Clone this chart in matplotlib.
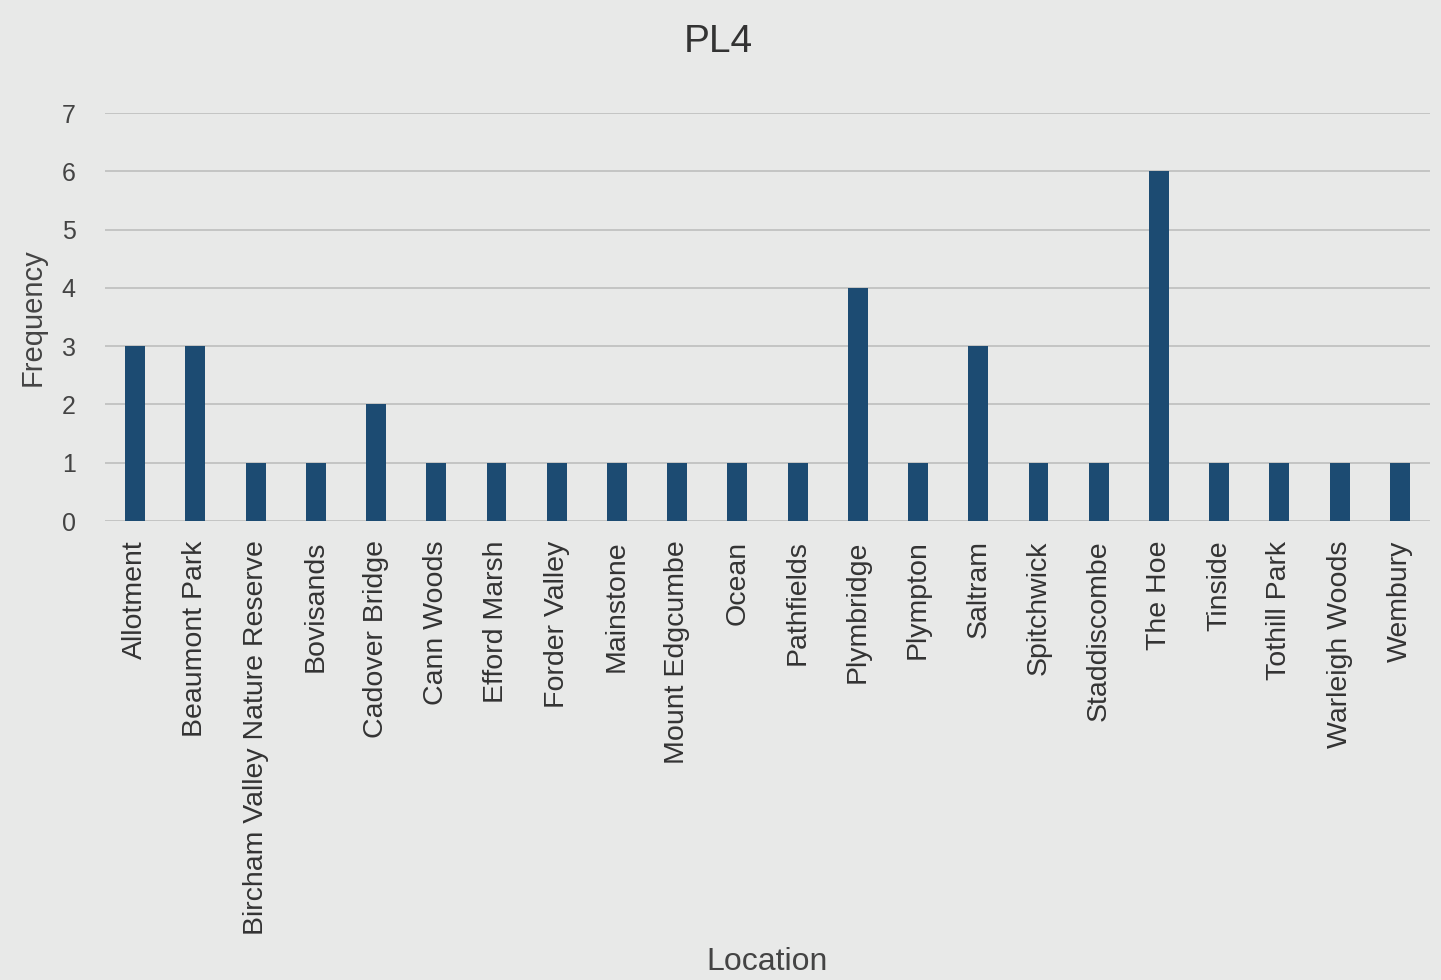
import matplotlib
matplotlib.use("Agg")
import matplotlib.pyplot as plt

locations = ["Allotment", "Beaumont Park", "Bircham Valley Nature Reserve", "Bovisands",
             "Cadover Bridge", "Cann Woods", "Efford Marsh", "Forder Valley", "Mainstone",
             "Mount Edgcumbe", "Ocean", "Pathfields", "Plymbridge", "Plympton", "Saltram",
             "Spitchwick", "Staddiscombe", "The Hoe", "Tinside", "Tothill Park",
             "Warleigh Woods", "Wembury"]
frequency = [3, 3, 1, 1, 2, 1, 1, 1, 1, 1, 1, 1, 4, 1, 3, 1, 1, 6, 1, 1, 1, 1]
yticks = [0, 1, 2, 3, 4, 5, 6, 7]

bg = "#e8e9e8"
plt.rcParams['font.family'] = ['Liberation Sans', 'DejaVu Sans']

fig = plt.figure(figsize=(14.41, 9.80), dpi=100, facecolor=bg)
ax = fig.add_axes([105/1441, 1-521/980, (1430-105)/1441, (521-113)/980], facecolor=bg)

x = list(range(len(locations)))
ax.bar(x, frequency, width=0.33, color="#1c4b72", zorder=3)

ax.set_xlim(-0.5, len(locations) - 0.5)
ax.set_ylim(0, 7)
ax.set_yticks(yticks)
ax.set_yticklabels([str(v) for v in yticks], fontsize=18, color="#444444")
ax.set_xticks(x)
ax.set_xticklabels(locations, rotation=90, fontsize=20.5, color="#333333")
ax.tick_params(axis='both', length=0)
ax.tick_params(axis='x', pad=14)
ax.tick_params(axis='y', pad=21)
ax.yaxis.grid(True, color="#c4c4c4", linewidth=1.4, zorder=0)
ax.xaxis.grid(False)
for s in ax.spines.values():
    s.set_visible(False)

ax.set_ylabel("Frequency", fontsize=21, color="#444444")
ax.yaxis.set_label_coords(-(105-47)/1325, 0.5)
fig.text(767/1441, 1-962/980, "Location", fontsize=23, color="#444444", ha="center", va="center")
fig.text(718/1441, 1-42/980, "PL4", fontsize=28, color="#333333", ha="center", va="center")

fig.savefig("out.png", dpi=100, facecolor=bg)
